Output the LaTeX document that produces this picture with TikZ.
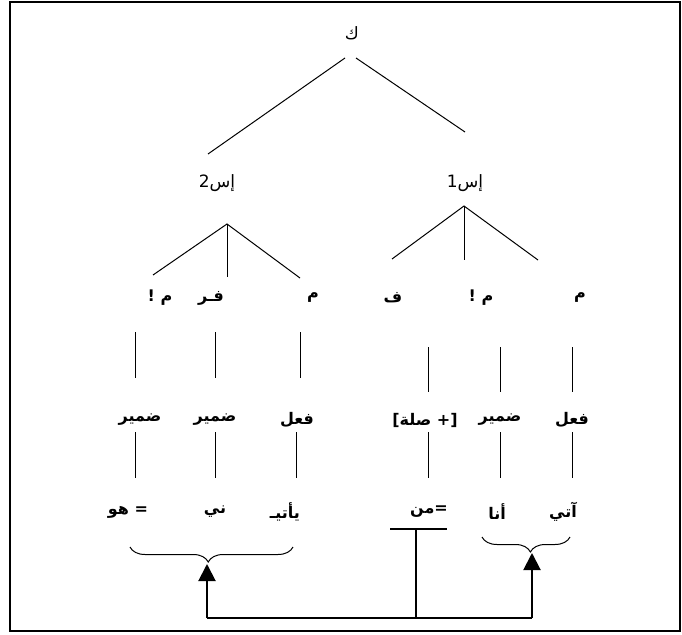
\documentclass[tikz,border=0pt]{standalone}
\usepackage{fontspec}
\newfontfamily\arabicfont[Script=Arabic]{DejaVu Sans}
\TeXXeTstate=1
\usetikzlibrary{arrows.meta,decorations.pathreplacing}

\begin{document}
\begin{tikzpicture}[
             x             = 1pt,
             y             = -1pt,
             lbl/.style    = {font=\arabicfont\bfseries\fontsize{16}{18}\selectfont, inner sep=0pt},
             top/.style    = {font=\arabicfont\fontsize{17}{19}\selectfont, inner sep=0pt},
             tree/.style   = {line width=1pt},
             bar/.style    = {line width=1.4pt},
             upto/.style   = {line width=2pt, -{Triangle[width=17pt,length=17pt]}},
             curly/.style  = {line width=1pt, decorate,
                              decoration={brace, amplitude=15pt, aspect=#1}}]
             \useasboundingbox (0,0) rectangle (682,634);
             \draw [line width=2pt] (10,2) rectangle (680,631);
             \node [top] (k)   at (352,33)  {\beginR ك\endR};
             \node [top] (is2) at (217,183) {\beginR إس2\endR};
             \node [top] (is1) at (465,183) {\beginR إس1\endR};
             \node [lbl] (m2a) at (160,298) {\beginR م !\endR};
             \node [lbl] (fr2) at (211,298) {\beginR فـر\endR};
             \node [lbl] (m2b) at (313,298) {\beginR م\endR};
             \node [lbl] (f1)  at (393,298) {\beginR ف\endR};
             \node [lbl] (m1a) at (481,298) {\beginR م !\endR};
             \node [lbl] (m1b) at (580,298) {\beginR م\endR};
             \node [lbl] (dam2a) at (140,420) {\beginR ضمير\endR};
             \node [lbl] (dam2b) at (215,420) {\beginR ضمير\endR};
             \node [lbl] (fil2)  at (297,420) {\beginR فعل\endR};
             \node [lbl] (sila1) at (425,420) {\beginR [+ صلة]\endR};
             \node [lbl] (dam1)  at (500,420) {\beginR ضمير\endR};
             \node [lbl] (fil1)  at (572,420) {\beginR فعل\endR};
             \node [lbl] (huwa) at (128,512) {\beginR = هو\endR};
             \node [lbl] (ni)   at (215,512) {\beginR ني\endR};
             \node [lbl] (yati) at (285,512) {\beginR يأتيـ\endR};
             \node [lbl] (man)  at (429,512) {\beginR =\kern0pt من\endR};
             \node [lbl] (ana)  at (497,512) {\beginR أنا\endR};
             \node [lbl] (ati)  at (563,512) {\beginR آتي\endR};
             \coordinate (kl)  at (345,58);
             \coordinate (kr)  at (356,58);
             \coordinate (s2e) at (208,154);
             \coordinate (s1e) at (465,132);
             \coordinate (s2)  at (227,224);
             \coordinate (s2a) at (153,275);
             \coordinate (s2b) at (227,277);
             \coordinate (s2c) at (300,278);
             \coordinate (s1)  at (464,206);
             \coordinate (s1a) at (392,259);
             \coordinate (s1b) at (464,260);
             \coordinate (s1c) at (538,260);
             \draw [tree] (kl) -- (s2e);
             \draw [tree] (kr) -- (s1e);
             \draw [tree] (s2a) -- (s2) -- (s2c);
             \draw [tree] (s2) -- (s2b);
             \draw [tree] (s1a) -- (s1) -- (s1c);
             \draw [tree] (s1) -- (s1b);
             \coordinate (u1) at (135,332); \coordinate (d1) at (135,378);
             \coordinate (u2) at (215,332); \coordinate (d2) at (215,378);
             \coordinate (u3) at (300,332); \coordinate (d3) at (300,378);
             \coordinate (u4) at (428,347); \coordinate (d4) at (428,392);
             \coordinate (u5) at (500,347); \coordinate (d5) at (500,392);
             \coordinate (u6) at (572,347); \coordinate (d6) at (572,392);
             \draw [tree] (u1) -- (d1);
             \draw [tree] (u2) -- (d2);
             \draw [tree] (u3) -- (d3);
             \draw [tree] (u4) -- (d4);
             \draw [tree] (u5) -- (d5);
             \draw [tree] (u6) -- (d6);
             \coordinate (p1) at (135,432); \coordinate (q1) at (135,478);
             \coordinate (p2) at (215,432); \coordinate (q2) at (215,478);
             \coordinate (p3) at (296,432); \coordinate (q3) at (296,478);
             \coordinate (p4) at (428,432); \coordinate (q4) at (428,478);
             \coordinate (p5) at (500,432); \coordinate (q5) at (500,478);
             \coordinate (p6) at (572,432); \coordinate (q6) at (572,478);
             \draw [tree] (p1) -- (q1);
             \draw [tree] (p2) -- (q2);
             \draw [tree] (p3) -- (q3);
             \draw [tree] (p4) -- (q4);
             \draw [tree] (p5) -- (q5);
             \draw [tree] (p6) -- (q6);
             \coordinate (lbr) at (293,547);
             \coordinate (lbl) at (130,547);
             \coordinate (rbr) at (570,537);
             \coordinate (rbl) at (482,537);
             \draw [curly=0.52] (lbr) -- (lbl);
             \draw [curly=0.45] (rbr) -- (rbl);
             \coordinate (tl)   at (390,529);
             \coordinate (tr)   at (447,529);
             \coordinate (tm)   at (416,529);
             \coordinate (tbot) at (416,618);
             \draw [bar] (tl) -- (tr);
             \draw [bar] (tm) -- (tbot);
             \coordinate (bl)   at (207,618);
             \coordinate (br)   at (532,618);
             \coordinate (ltip) at (207,564);
             \coordinate (rtip) at (532,553);
             \draw [line width=2.6pt] (bl) -- (br);
             \draw [upto] (bl) -- (ltip);
             \draw [upto] (br) -- (rtip);
    \end{tikzpicture}
\end{document}
